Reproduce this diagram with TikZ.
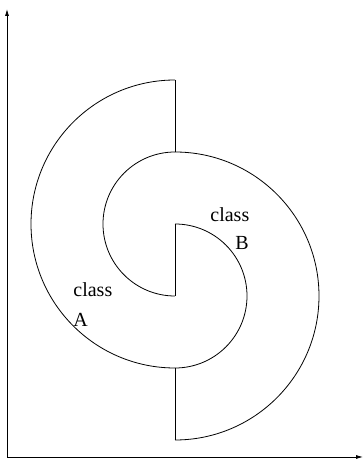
\documentclass[tikz,border=0pt]{standalone}
\usepackage{fontspec}
\setmainfont{Liberation Serif}
\usepackage{tikz}
\usetikzlibrary{arrows.meta}

\begin{document}
\begin{tikzpicture}[x=1pt,y=1pt,>={Latex[length=7pt,width=4pt]},line width=0.8pt,
  lbl/.style={anchor=base west,inner sep=0pt,font=\fontsize{20}{24}\selectfont}]
  \useasboundingbox (0,0) rectangle (364,464);
  % axes
  \coordinate (O) at (7,7);
  \coordinate (Ytop) at (7,455);
  \coordinate (Xend) at (363,7);
  \draw[->] (O) -- (Ytop);
  \draw[->] (O) -- (Xend);
  % class A (left half ring)
  \draw (175,384) arc[start angle=90,end angle=270,radius=144];
  \draw (175,312) arc[start angle=90,end angle=270,radius=72];
  % class B (right half ring)
  \draw (175,312) arc[start angle=90,end angle=-90,radius=144];
  \draw (175,240) arc[start angle=90,end angle=-90,radius=72];
  % closing segments
  \draw (175,384) -- (175,312);
  \draw (175,240) -- (175,168);
  \draw (175,96) -- (175,24);
  % labels
  \node[lbl] (clsA) at (73,167) {class};
  \node[lbl] (A) at (73,137) {A};
  \node[lbl] (clsB) at (210,242) {class};
  \node[lbl] (B) at (235,214) {B};
\end{tikzpicture}
\end{document}
